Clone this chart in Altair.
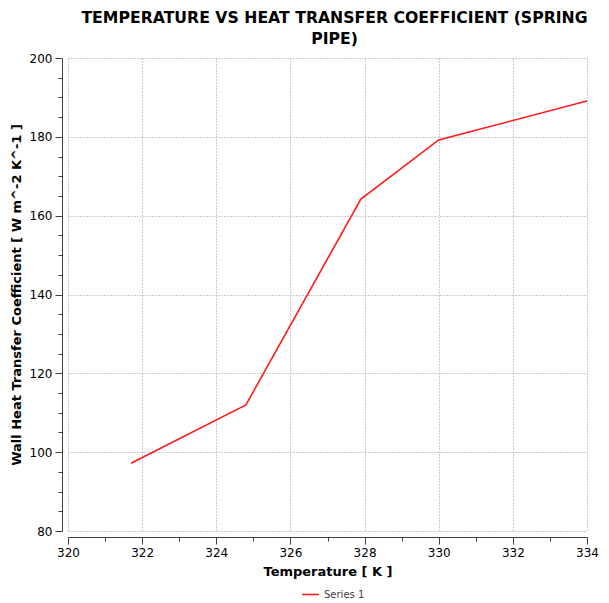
import altair as alt
import pandas as pd

temperature = [321.7, 324.8, 327.9, 330.0, 334.0]
htc = [97.2, 112.0, 164.2, 179.2, 189.1]
series = ["Series 1"] * len(temperature)

x_ticks = [320 + 0.5 * i for i in range(29)]
y_ticks = [80 + 5 * i for i in range(25)]

df = pd.DataFrame({"Temperature": temperature, "HTC": htc, "Series": series})

FONT = "DejaVu Sans"

x_axis = alt.Axis(
    values=x_ticks,
    format="d",
    labelExpr="datum.value % 2 === 0 ? datum.label : ''",
    tickSize={"condition": {"test": "datum.value % 2 === 0", "value": 7}, "value": 4},
    gridOpacity={"condition": {"test": "datum.value % 2 === 0", "value": 1}, "value": 0},
    offset=6,
    domainColor="#404040",
    tickColor="#404040",
    gridColor="#999999",
    gridDash=[1, 2],
    labelFont=FONT,
    labelFontSize=12,
    labelColor="#000000",
    labelPadding=3,
    labelFlush=False,
    title="Temperature [ K ]",
    titleFont=FONT,
    titleFontSize=13,
    titleFontWeight="bold",
    titleColor="#000000",
    titlePadding=7,
)

y_axis = alt.Axis(
    values=y_ticks,
    format="d",
    labelExpr="datum.value % 20 === 0 ? datum.label : ''",
    tickSize={"condition": {"test": "datum.value % 20 === 0", "value": 7}, "value": 4},
    gridOpacity={"condition": {"test": "datum.value % 20 === 0", "value": 1}, "value": 0},
    offset=6,
    domainColor="#404040",
    tickColor="#404040",
    gridColor="#999999",
    gridDash=[1, 2],
    labelFont=FONT,
    labelFontSize=12,
    labelColor="#000000",
    labelPadding=3,
    labelFlush=False,
    title="Wall Heat Transfer Coefficient [ W m^-2 K^-1 ]",
    titleFont=FONT,
    titleFontSize=13,
    titleFontWeight="bold",
    titleColor="#000000",
    titlePadding=6,
)

chart = (
    alt.Chart(df)
    .mark_line(strokeWidth=1.6)
    .encode(
        x=alt.X("Temperature:Q", scale=alt.Scale(domain=[320, 334], nice=False, zero=False), axis=x_axis),
        y=alt.Y("HTC:Q", scale=alt.Scale(domain=[80, 200], nice=False, zero=False), axis=y_axis),
        color=alt.Color(
            "Series:N",
            scale=alt.Scale(range=["#ff1a1a"]),
            legend=alt.Legend(
                title=None,
                orient="none",
                legendX=233,
                legendY=527,
                symbolType="stroke",
                symbolStrokeWidth=1.6,
                symbolSize=280,
                labelFont=FONT,
                labelFontSize=10,
                labelColor="#404040",
            ),
        ),
    )
    .properties(
        width=519,
        height=473,
        title=alt.TitleParams(
            text=["TEMPERATURE VS HEAT TRANSFER COEFFICIENT (SPRING", "PIPE)"],
            font=FONT,
            fontSize=15.7,
            fontWeight="bold",
            color="#000000",
            anchor="middle",
            offset=4,
            lineHeight=21,
            dx=7,
        ),
        autosize=alt.AutoSizeParams(type="none"),
        padding={"left": 68, "top": 58, "right": 22, "bottom": 72},
        background="white",
    )
    .configure_view(stroke=None)
)

chart.save("out.html", embed_options={"renderer": "svg", "actions": False})
